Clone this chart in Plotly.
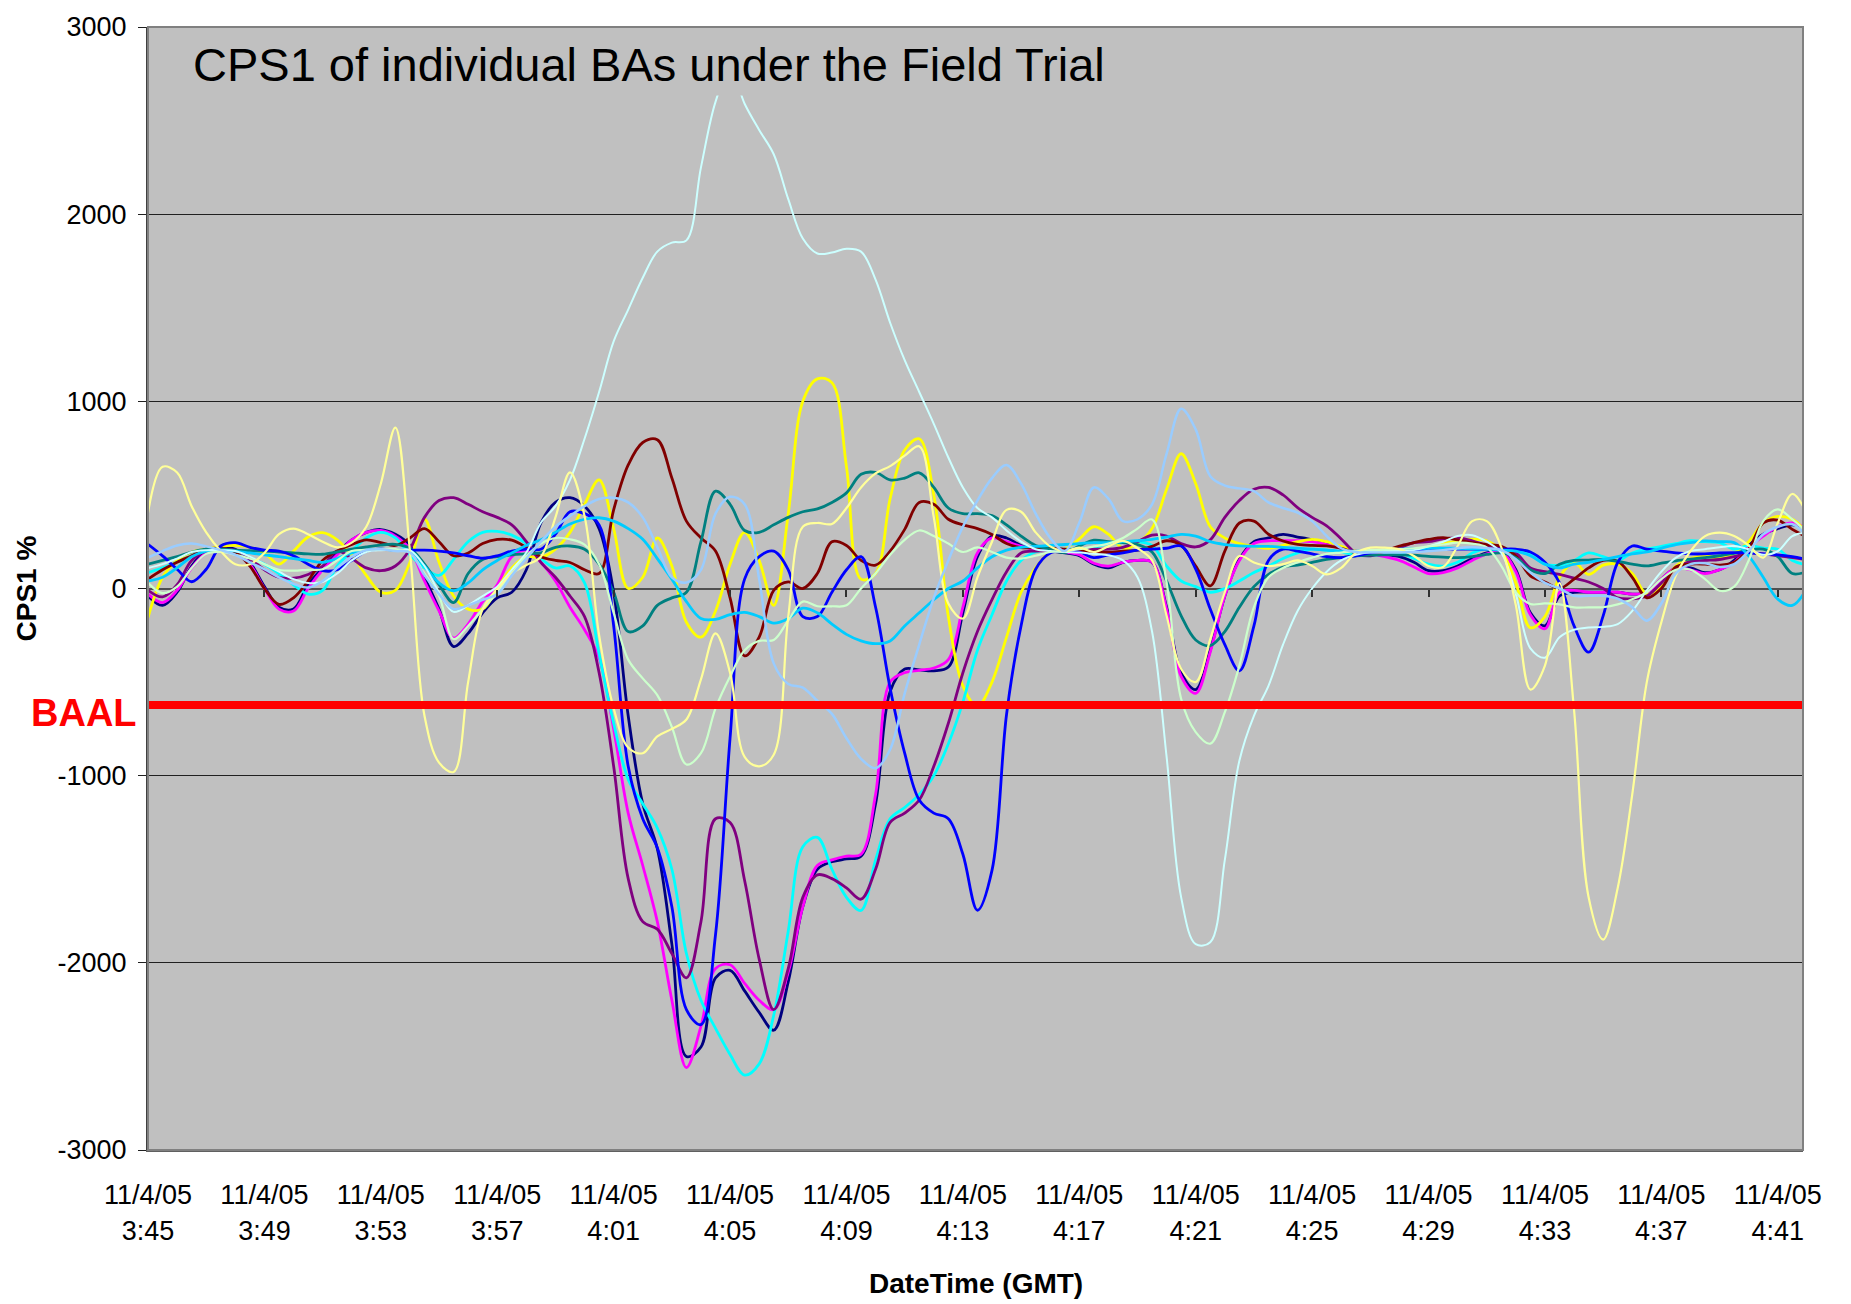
import pandas as pd
import plotly.graph_objects as go

# ---------------- data ----------------
START = "2005-11-04 03:45:00"
X_END = "2005-11-04 04:41:52"
SAMPLE_FREQ = "30s"
DATE_LABEL = "11/4/05"
TICK_TIMES = ["03:45", "03:49", "03:53", "03:57", "04:01", "04:05", "04:09", "04:13",
              "04:17", "04:21", "04:25", "04:29", "04:33", "04:37", "04:41"]
TICK_LABELS = ["3:45", "3:49", "3:53", "3:57", "4:01", "4:05", "4:09", "4:13",
               "4:17", "4:21", "4:25", "4:29", "4:33", "4:37", "4:41"]
Y_TICKS = [-3000, -2000, -1000, 0, 1000, 2000, 3000]
Y_TICK_LABELS = ["-3000", "-2000", "-1000", "0", "1000", "2000", "3000"]
BAAL = -623

BA01 = [-40, -90, -20, 120, 200, 215, 210, 140, 10, -100,
        -110, 20, 110, 190, 260, 300, 315, 290, 230, 60,
        -110, -310, -240, -130, -50, -20, 100, 350, 460, 485,
        440, 320, -20, -680, -1150, -1390, -1900, -2500, -2450, -2080,
        -2040, -2150, -2265, -2360, -2100, -1700, -1500, -1460, -1445, -1430,
        -1150, -550, -430, -435, -440, -420, -130, 170, 280, 270,
        230, 210, 200, 190, 175, 130, 110, 140, 150, 140,
        -100, -450, -540, -330, -40, 156, 250, 270, 289, 275,
        260, 240, 215, 195, 185, 180, 170, 140, 95, 95,
        120, 160, 190, 200, 100, -130, -200, -40, -20, -20,
        -20, -20, -30, -20, 50, 110, 110, 85, 100, 150,
        230, 290, 320, 340, 320]
BA02 = [-30, -75, -10, 110, 190, 210, 200, 130, 0, -110,
        -120, 0, 100, 180, 260, 300, 310, 280, 210, 40,
        -120, -265, -190, -70, 20, 170, 205, 140, 40, -100,
        -220, -370, -750, -1200, -1480, -1780, -2200, -2560, -2340, -2030,
        -2010, -2110, -2200, -2250, -2050, -1700, -1480, -1450, -1430, -1420,
        -1100, -500, -450, -437, -425, -380, -100, 190, 270, 250,
        225, 210, 205, 195, 180, 135, 120, 140, 150, 140,
        -110, -470, -560, -340, -40, 150, 240, 255, 255, 255,
        250, 235, 215, 200, 185, 170, 150, 115, 80, 85,
        110, 150, 185, 195, 90, -140, -215, -20, -10, -20,
        -20, -20, -30, -20, 50, 110, 100, 80, 100, 140,
        220, 280, 330, 350, 320]
BA03 = [-155, 60, 150, 195, 210, 225, 230, 220, 190, 130,
        200, 275, 298, 260, 180, 70, -20, -10, 140, 370,
        140, -40, -110, -110, 0, 110, 170, 165, 210, 300,
        450, 580, 320, 0, 60, 270, 120, -180, -260, -120,
        130, 300, 150, -90, 400, 1000, 1120, 1100, 650, 50,
        80, 480, 740, 800, 500, -150, -520, -630, -500, -260,
        -20, 110, 195, 210, 265, 330, 290, 215, 240, 320,
        530, 720, 560, 330, 270, 240, 225, 215, 230, 250,
        263, 250, 225, 200, 195, 195, 195, 205, 220, 240,
        255, 263, 255, 200, 30, -210, -150, 60, 139, 75,
        125, 130, 80, -30, 10, 120, 160, 175, 160, 190,
        250, 350, 385, 370, 300]
BA04 = [85, 110, 140, 175, 205, 210, 200, 165, 130, 80,
        20, -30, -10, 120, 200, 270, 300, 270, 180, 110,
        70, 156, 250, 300, 305, 285, 240, 160, 110, 120,
        30, -350, -720, -1020, -1150, -1280, -1500, -1950, -2200, -2350,
        -2490, -2600, -2540, -2280, -1830, -1380, -1330, -1500, -1650, -1720,
        -1450, -1230, -1170, -1100, -1000, -830, -607, -330, -140, 40,
        150, 195, 205, 210, 210, 220, 240, 245, 250, 230,
        120, 40, 10, -20, 0, 40, 85, 120, 160, 190,
        210, 205, 195, 180, 175, 185, 190, 160, 130, 120,
        140, 190, 215, 215, 200, 180, 130, 125, 150, 190,
        170, 150, 190, 210, 225, 240, 255, 250, 245, 210,
        230, 215, 210, 150, 125]
BA05 = [-10, -45, 20, 150, 200, 205, 205, 160, 100, 60,
        55, 75, 120, 200, 160, 110, 95, 120, 210, 380,
        470, 485, 450, 410, 380, 340, 250, 140, 60, -40,
        -150, -450, -950, -1550, -1780, -1820, -1950, -2080, -1780, -1230,
        -1250, -1560, -1980, -2250, -2030, -1650, -1530, -1550, -1600, -1660,
        -1500, -1250, -1200, -1130, -950, -720, -450, -230, -60, 90,
        190, 200, 200, 200, 205, 210, 210, 220, 250, 285,
        280, 240, 222, 260, 380, 470, 530, 540, 500, 432,
        380, 335, 265, 190, 175, 200, 218, 245, 250, 265,
        270, 255, 230, 215, 190, 110, 90, 75, 55, 35,
        0, -50, -55, -40, 30, 110, 145, 150, 155, 170,
        190, 185, 175, 165, 155]
BA06 = [50, 100, 140, 175, 210, 215, 195, 120, 0, -85,
        -50, 40, 150, 200, 235, 260, 245, 230, 270, 320,
        250, 175, 190, 240, 262, 258, 220, 170, 150, 139,
        100, 80, 420, 660, 780, 795, 590, 360, 270, 200,
        -50, -360, -260, -10, 35, 0, 80, 250, 230, 150,
        125, 200, 316, 460, 450, 370, 340, 320, 289, 240,
        218, 218, 218, 210, 200, 197, 194, 200, 205, 225,
        255, 230, 120, 14, 200, 350, 360, 290, 254, 236,
        230, 228, 215, 190, 180, 200, 227, 245, 262, 272,
        260, 245, 235, 225, 174, 67, 35, 0, 50, 110,
        150, 145, 60, -50, 0, 115, 130, 130, 125, 140,
        210, 350, 365, 316, 275]
BA07 = [130, 150, 170, 195, 210, 212, 205, 202, 200, 195,
        190, 185, 183, 195, 210, 222, 232, 236, 215, 130,
        20, -75, 80, 155, 170, 180, 185, 190, 220, 227,
        210, 130, -20, -230, -200, -90, -50, -20, 250, 520,
        450, 310, 300, 340, 380, 410, 425, 460, 511, 610,
        620, 580, 590, 618, 540, 430, 400, 400, 390, 340,
        280, 230, 210, 192, 227, 258, 250, 245, 235, 195,
        40, -146, -275, -305, -230, -100, 10, 75, 115, 125,
        140, 155, 165, 175, 178, 180, 180, 178, 172, 168,
        165, 170, 182, 190, 165, 100, 80, 130, 150, 152,
        155, 145, 130, 121, 135, 148, 157, 165, 175, 187,
        205, 210, 170, 80, 90]
BA08 = [236, 174, 103, 36, 103, 227, 245, 220, 205, 200,
        175, 130, 95, 100, 150, 200, 210, 205, 205, 205,
        200, 190, 175, 162, 175, 200, 210, 210, 290, 410,
        400, 340, -200, -950, -1230, -1385, -1700, -2250, -2330, -1850,
        -800, 50, 170, 200, 100, -150, -150, -20, 100, 170,
        -100, -533, -880, -1130, -1200, -1230, -1420, -1719, -1506, -673,
        -199, 103, 190, 200, 195, 165, 180, 190, 205, 210,
        215, 227, 103, -110, -300, -440, -200, 150, 210, 200,
        185, 170, 165, 175, 190, 200, 200, 205, 210, 210,
        210, 210, 210, 210, 210, 195, 140, 30, -200, -340,
        -146, 139, 227, 210, 200, 190, 185, 185, 190, 192,
        190, 185, 180, 170, 156]
BA09 = [40, 60, 110, 170, 200, 205, 200, 190, 180, 170,
        160, 150, 140, 160, 190, 205, 210, 205, 200, 120,
        30, -12, 30, 100, 150, 190, 230, 260, 300, 345,
        370, 378, 360, 320, 263, 160, 50, -70, -160, -165,
        -140, -128, -150, -185, -160, -105, -130, -190, -245, -280,
        -295, -280, -200, -130, -60, 0, 40, 110, 170, 205,
        220, 225, 230, 235, 240, 245, 245, 250, 255, 263,
        275, 289, 280, 250, 235, 228, 225, 225, 220, 215,
        210, 205, 200, 200, 200, 205, 210, 212, 215, 215,
        215, 212, 210, 205, 200, 175, 130, 110, 130, 140,
        155, 170, 185, 195, 215, 235, 245, 254, 250, 245,
        174, 60, -57, -90, 0]
BA10 = [110, 130, 160, 195, 205, 205, 200, 170, 130, 90,
        50, 30, 35, 80, 150, 195, 205, 205, 205, 120,
        -20, -125, -90, -40, 10, 100, 192, 351, 440, 580,
        800, 1050, 1320, 1490, 1660, 1800, 1848, 1860, 2250, 2600,
        2780, 2590, 2450, 2320, 2080, 1870, 1790, 1795, 1815, 1800,
        1650, 1420, 1220, 1050, 880, 700, 540, 430, 380, 310,
        250, 210, 200, 195, 192, 185, 178, 150, 60, -230,
        -900, -1650, -1900, -1890, -1450, -920, -680, -520, -300, -120,
        0, 90, 150, 180, 195, 200, 200, 205, 225, 250,
        280, 285, 250, 190, -30, -320, -370, -260, -220, -208,
        -205, -190, -120, -10, 90, 165, 200, 210, 220, 227,
        210, 180, 200, 280, 300]
BA11 = [30, -25, 10, 110, 185, 195, 180, 160, 130, 100,
        95, 100, 103, 150, 200, 205, 210, 210, 190, 80,
        -40, -270, -200, -110, -20, 80, 174, 240, 270, 263,
        235, 130, -130, -380, -480, -570, -740, -940, -880, -640,
        -470, -330, -280, -275, -170, -70, -95, -95, -90, 0,
        80, 180, 260, 310, 280, 240, 195, 220, 195, 165,
        160, 175, 195, 200, 210, 225, 240, 270, 320, 369,
        32, -590, -767, -829, -661, -412, -100, 60, 110, 140,
        165, 185, 192, 200, 205, 208, 210, 215, 225, 235,
        245, 240, 220, 121, -21, -83, -80, -85, -101, -101,
        -100, -85, -57, -20, 50, 100, 100, 50, -12, 10,
        150, 360, 423, 369, 300]
BA12 = [405, 650, 620, 440, 300, 200, 130, 130, 190, 290,
        320, 290, 250, 220, 245, 330, 560, 860, 200, -680,
        -930, -980, -500, -110, -4, 80, 125, 170, 380, 620,
        387, -250, -640, -850, -880, -790, -750, -700, -485, -240,
        -450, -900, -950, -888, -150, 330, 350, 345, 430, 540,
        615, 654, 710, 760, 380, -80, -160, 60, 250, 420,
        410, 300, 225, 200, 218, 195, 225, 254, 215, 150,
        -146, -430, -500, -270, -20, 174, 139, 120, 130, 150,
        120, 75, 110, 190, 218, 218, 210, 174, 120, 115,
        227, 360, 360, 220, -90, -540, -412, 30, -650, -1650,
        -1876, -1600, -1100, -500, -180, 70, 200, 280, 298, 280,
        230, 165, 350, 505, 400]
BA13 = [165, 200, 230, 240, 225, 205, 180, 140, 103, 60,
        25, 5, 40, 110, 170, 205, 210, 200, 192, 70,
        -30, -110, -90, -60, -30, 70, 160, 250, 330, 387,
        440, 478, 485, 460, 380, 220, 60, 32, 100, 400,
        490, 450, 50, -400, -510, -530, -600, -670, -800, -910,
        -960, -860, -560, -300, -50, 150, 330, 470, 590, 660,
        560, 400, 270, 200, 351, 540, 480, 360, 370, 450,
        720, 960, 850, 600, 550, 535, 520, 460, 430, 405,
        360, 280, 215, 195, 192, 192, 192, 195, 200, 205,
        215, 220, 215, 205, 156, 85, 30, 0, -39, -39,
        -39, -55, -100, -172, -80, 80, 130, 135, 115, 130,
        200, 290, 330, 343, 280]

SERIES = [BA01, BA02, BA03, BA04, BA05, BA06, BA07, BA08, BA09, BA10, BA11, BA12, BA13]

# ---------------- styles ----------------
COLORS = ["#000080", "#FF00FF", "#FFFF00", "#00FFFF", "#800080", "#800000", "#008080",
          "#0000FF", "#00CCFF", "#CCFFFF", "#CCFFCC", "#FFFF99", "#99CCFF"]
WIDTHS = [2.8, 2.8, 2.8, 2.8, 2.8, 2.8, 2.8, 2.8, 2.8, 2.0, 2.2, 2.2, 2.5]
FONT = "Liberation Sans, Arial, sans-serif"

times = pd.date_range(START, periods=len(BA01), freq=SAMPLE_FREQ)
tickvals = [pd.Timestamp("2005-11-04 " + t + ":00") for t in TICK_TIMES]
ticktext = [DATE_LABEL + "<br>" + lab for lab in TICK_LABELS]
x_range = [times[0], pd.Timestamp(X_END)]

fig = go.Figure()
for i, vals in enumerate(SERIES):
    fig.add_trace(go.Scatter(
        x=times, y=vals, mode="lines",
        line=dict(color=COLORS[i], width=WIDTHS[i], shape="spline", smoothing=1.0),
        showlegend=False, hoverinfo="skip"))

# BAAL line (on overlay axis so it is drawn above everything)
fig.add_trace(go.Scatter(
    x=[times[0], times[-1]], y=[BAAL, BAAL], mode="lines", xaxis="x2",
    line=dict(color="#FF0000", width=8), showlegend=False, hoverinfo="skip"))

fig.update_layout(
    width=1851, height=1304,
    margin=dict(l=148, r=48, t=21, b=154),
    paper_bgcolor="white", plot_bgcolor="#C0C0C0",
    font=dict(family=FONT, color="black"),
    xaxis=dict(type="date", range=x_range, tickvals=tickvals, ticktext=ticktext,
               tickfont=dict(size=27, family=FONT), showgrid=False, zeroline=False,
               showline=True, linecolor="#606060", linewidth=2, ticks="",
               ticklabelstandoff=20),
    xaxis2=dict(type="date", range=x_range, overlaying="x", anchor="free", position=0.5,
                tickvals=tickvals, showticklabels=False, showgrid=False, zeroline=False,
                showline=False, ticks="outside", ticklen=7, tickwidth=1.5, tickcolor="#303030"),
    yaxis=dict(range=[-3000, 3000], tickvals=Y_TICKS, ticktext=Y_TICK_LABELS,
               tickfont=dict(size=27, family=FONT),
               showgrid=True, gridcolor="#202020", gridwidth=1,
               zeroline=True, zerolinecolor="#505050", zerolinewidth=2,
               showline=True, linecolor="#404040", linewidth=2,
               ticks="outside", ticklen=8, tickcolor="#202020", ticklabelstandoff=6),
    shapes=[dict(type="rect", xref="paper", yref="paper", x0=0, x1=1, y0=0, y1=1,
                 line=dict(color="#808080", width=2), layer="above")],
    annotations=[
        dict(text="CPS1 of individual BAs under the Field Trial", xref="paper", yref="paper",
             x=0, y=1, xanchor="left", yanchor="top", xshift=40, yshift=-6,
             showarrow=False, bgcolor="#C0C0C0", borderpad=4,
             font=dict(size=47, family=FONT, color="black")),
        dict(text="<b>BAAL</b>", xref="paper", yref="y", x=0, y=BAAL,
             xanchor="right", yanchor="middle", xshift=-9, yshift=-8, showarrow=False,
             font=dict(size=38, family=FONT, color="#FF0000")),
        dict(text="<b>CPS1 %</b>", xref="paper", yref="paper", x=0, y=0.5,
             xanchor="center", yanchor="middle", xshift=-122, textangle=-90, showarrow=False,
             font=dict(size=28, family=FONT, color="black")),
        dict(text="<b>DateTime (GMT)</b>", xref="paper", yref="paper", x=0.5, y=0,
             xanchor="center", yanchor="middle", yshift=-133, showarrow=False,
             font=dict(size=28, family=FONT, color="black")),
    ],
)

fig.write_html("out.html", config={"displayModeBar": False},
               post_script="document.body.style.margin='0';document.body.style.overflow='hidden';")
